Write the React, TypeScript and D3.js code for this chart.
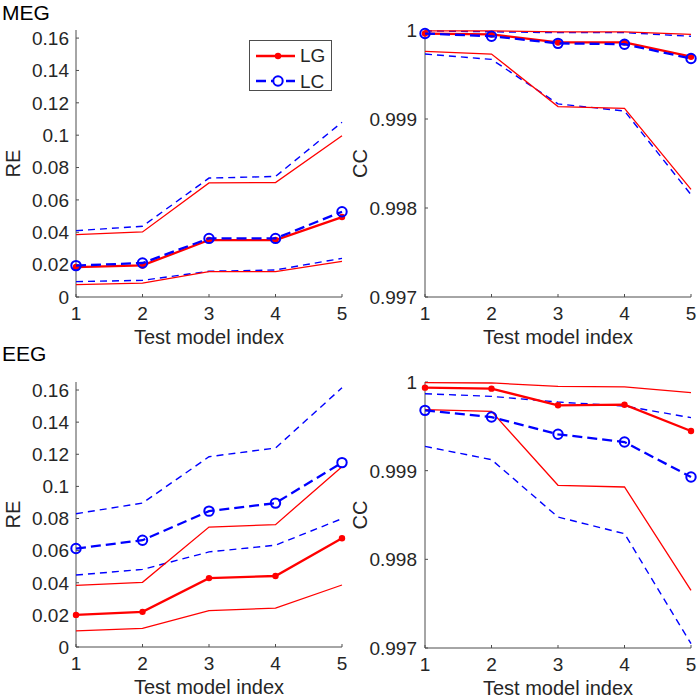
import React, { useEffect, useRef } from 'react'
import * as d3 from 'd3'

const models = [1, 2, 3, 4, 5]

// MEG, relative error
const megReLgMean = [0.0185, 0.0195, 0.0352, 0.0352, 0.0494]
const megReLgHi = [0.0385, 0.0402, 0.0705, 0.0707, 0.0997]
const megReLgLo = [0.0076, 0.0086, 0.0157, 0.0157, 0.022]
const megReLcMean = [0.0194, 0.021, 0.0362, 0.0362, 0.0527]
const megReLcHi = [0.041, 0.0437, 0.0735, 0.0745, 0.108]
const megReLcLo = [0.0095, 0.0103, 0.0159, 0.0167, 0.0239]

// MEG, correlation coefficient
const megCcLgMean = [0.99996, 0.99995, 0.99986, 0.99986, 0.9997]
const megCcLgHi = [0.99999, 0.99999, 0.99998, 0.99998, 0.99995]
const megCcLgLo = [0.99976, 0.99973, 0.99914, 0.99912, 0.99821]
const megCcLcMean = [0.99996, 0.99993, 0.99985, 0.99984, 0.99968]
const megCcLcHi = [0.99999, 0.99998, 0.99997, 0.99997, 0.99993]
const megCcLcLo = [0.99973, 0.99967, 0.99917, 0.99909, 0.99815]

// EEG, relative error
const eegReLgMean = [0.02, 0.0219, 0.0429, 0.0442, 0.0677]
const eegReLgHi = [0.0384, 0.0403, 0.0747, 0.0762, 0.1123]
const eegReLgLo = [0.0101, 0.0116, 0.0227, 0.0242, 0.0386]
const eegReLcMean = [0.0613, 0.0665, 0.0846, 0.0896, 0.1148]
const eegReLcHi = [0.083, 0.0896, 0.1185, 0.1239, 0.1614]
const eegReLcLo = [0.0448, 0.0483, 0.0592, 0.0634, 0.0799]

// EEG, correlation coefficient
const eegCcLgMean = [0.999936, 0.999925, 0.999737, 0.999744, 0.999447]
const eegCcLgHi = [0.999992, 0.999989, 0.999951, 0.999944, 0.99988]
const eegCcLgLo = [0.999688, 0.999669, 0.998835, 0.998816, 0.99765]
const eegCcLcMean = [0.99968, 0.999605, 0.99941, 0.999323, 0.998929]
const eegCcLcHi = [0.999868, 0.999838, 0.999774, 0.999729, 0.999598]
const eegCcLcLo = [0.999274, 0.999124, 0.998477, 0.998289, 0.997049]

const reTicks = [0, 0.02, 0.04, 0.06, 0.08, 0.1, 0.12, 0.14, 0.16]
const ccTicks = [0.997, 0.998, 0.999, 1]

const RED = '#ff0000'
const BLUE = '#0000ff'
const AXIS = '#4d4d4d'
const TEXT = '#262626'
const FONT = 'Liberation Sans, Arial, sans-serif'

type Panel = {
  left: number
  right: number
  top: number
  bottom: number
  domain: [number, number]
  ticks: number[]
  fmt: (v: number) => string
  ylabel: string
  ylabelX: number
  tickGap: number
  lgMean: number[]
  lgHi: number[]
  lgLo: number[]
  lcMean: number[]
  lcHi: number[]
  lcLo: number[]
}

export default function App() {
  const ref = useRef<SVGSVGElement>(null)

  useEffect(() => {
    const svg = d3.select(ref.current)
    svg.selectAll('*').remove()

    const reFmt = (v: number) => (v === 0 ? '0' : String(+v.toFixed(2)))
    const ccFmt = (v: number) => (v === 1 ? '1' : v.toFixed(3))

    const panels: Panel[] = [
      { left: 76, right: 342, top: 30, bottom: 297, domain: [0, 0.165], ticks: reTicks, fmt: reFmt, ylabel: 'RE', ylabelX: 20, tickGap: 7,
        lgMean: megReLgMean, lgHi: megReLgHi, lgLo: megReLgLo, lcMean: megReLcMean, lcHi: megReLcHi, lcLo: megReLcLo },
      { left: 425, right: 691, top: 30, bottom: 297, domain: [0.997, 1], ticks: ccTicks, fmt: ccFmt, ylabel: 'CC', ylabelX: 367, tickGap: 8,
        lgMean: megCcLgMean, lgHi: megCcLgHi, lgLo: megCcLgLo, lcMean: megCcLcMean, lcHi: megCcLcHi, lcLo: megCcLcLo },
      { left: 76, right: 342, top: 382, bottom: 647, domain: [0, 0.165], ticks: reTicks, fmt: reFmt, ylabel: 'RE', ylabelX: 20, tickGap: 7,
        lgMean: eegReLgMean, lgHi: eegReLgHi, lgLo: eegReLgLo, lcMean: eegReLcMean, lcHi: eegReLcHi, lcLo: eegReLcLo },
      { left: 425, right: 691, top: 382, bottom: 648, domain: [0.997, 1], ticks: ccTicks, fmt: ccFmt, ylabel: 'CC', ylabelX: 367, tickGap: 8,
        lgMean: eegCcLgMean, lgHi: eegCcLgHi, lgLo: eegCcLgLo, lcMean: eegCcLcMean, lcHi: eegCcLcHi, lcLo: eegCcLcLo },
    ]

    panels.forEach((p) => {
      const x = d3.scaleLinear().domain([1, 5]).range([p.left, p.right])
      const y = d3.scaleLinear().domain(p.domain).range([p.bottom, p.top])
      const g = svg.append('g')

      // axes (box off, ticks inward)
      g.append('line').attr('x1', p.left).attr('x2', p.left).attr('y1', p.top).attr('y2', p.bottom)
        .attr('stroke', AXIS).attr('stroke-width', 1)
      g.append('line').attr('x1', p.left).attr('x2', p.right).attr('y1', p.bottom).attr('y2', p.bottom)
        .attr('stroke', AXIS).attr('stroke-width', 1)

      p.ticks.forEach((t) => {
        g.append('line').attr('x1', p.left).attr('x2', p.left + 3).attr('y1', y(t)).attr('y2', y(t))
          .attr('stroke', AXIS)
        g.append('text').attr('x', p.left - p.tickGap).attr('y', y(t)).attr('dy', '0.36em')
          .attr('text-anchor', 'end').attr('font-size', 19).attr('font-family', FONT).attr('fill', TEXT)
          .text(p.fmt(t))
      })
      models.forEach((m) => {
        g.append('line').attr('x1', x(m)).attr('x2', x(m)).attr('y1', p.bottom).attr('y2', p.bottom - 3)
          .attr('stroke', AXIS)
        g.append('text').attr('x', x(m)).attr('y', p.bottom + 23)
          .attr('text-anchor', 'middle').attr('font-size', 19).attr('font-family', FONT).attr('fill', TEXT)
          .text(m)
      })
      g.append('text').attr('x', (p.left + p.right) / 2).attr('y', p.bottom + 47)
        .attr('text-anchor', 'middle').attr('font-size', 20).attr('font-family', FONT).attr('fill', TEXT)
        .text('Test model index')
      const cy = (p.top + p.bottom) / 2
      g.append('text').attr('transform', `translate(${p.ylabelX},${cy}) rotate(-90)`)
        .attr('text-anchor', 'middle').attr('font-size', 20).attr('font-family', FONT).attr('fill', TEXT)
        .text(p.ylabel)

      const line = d3.line<number>().x((_, i) => x(models[i])).y((d) => y(d))

      const draw = (vals: number[], color: string, w: number, dash: string | null) => {
        const path = g.append('path').datum(vals).attr('d', line).attr('fill', 'none')
          .attr('stroke', color).attr('stroke-width', w).attr('stroke-linejoin', 'miter')
        if (dash) path.attr('stroke-dasharray', dash)
      }

      draw(p.lcHi, BLUE, 1.4, '7,5')
      draw(p.lcLo, BLUE, 1.4, '7,5')
      draw(p.lgHi, RED, 1.3, null)
      draw(p.lgLo, RED, 1.3, null)
      draw(p.lgMean, RED, 2.3, null)
      g.selectAll('.lgdot').data(p.lgMean).enter().append('circle')
        .attr('cx', (_, i) => x(models[i])).attr('cy', (d) => y(d)).attr('r', 3.2).attr('fill', RED)
      draw(p.lcMean, BLUE, 2.3, '10,5')
      g.selectAll('.lcdot').data(p.lcMean).enter().append('circle')
        .attr('cx', (_, i) => x(models[i])).attr('cy', (d) => y(d)).attr('r', 4.7)
        .attr('fill', 'none').attr('stroke', BLUE).attr('stroke-width', 2)
    })

    // panel titles
    svg.append('text').attr('x', 2).attr('y', 20).attr('font-size', 21).attr('font-family', FONT).attr('fill', '#000').text('MEG')
    svg.append('text').attr('x', 2).attr('y', 361).attr('font-size', 21).attr('font-family', FONT).attr('fill', '#000').text('EEG')

    // legend
    const lg = svg.append('g')
    lg.append('rect').attr('x', 249.5).attr('y', 40.5).attr('width', 82).attr('height', 50)
      .attr('fill', '#fff').attr('stroke', AXIS).attr('stroke-width', 1)
    lg.append('line').attr('x1', 256).attr('x2', 295).attr('y1', 56).attr('y2', 56).attr('stroke', RED).attr('stroke-width', 2.3)
    lg.append('circle').attr('cx', 278).attr('cy', 56).attr('r', 3.2).attr('fill', RED)
    lg.append('line').attr('x1', 256).attr('x2', 295).attr('y1', 81).attr('y2', 81).attr('stroke', BLUE)
      .attr('stroke-width', 2.3).attr('stroke-dasharray', '10,5')
    lg.append('circle').attr('cx', 278).attr('cy', 81).attr('r', 4.7).attr('fill', '#fff').attr('stroke', BLUE).attr('stroke-width', 2)
    lg.append('text').attr('x', 300).attr('y', 62).attr('font-size', 19).attr('font-family', FONT).attr('fill', TEXT).text('LG')
    lg.append('text').attr('x', 300).attr('y', 88).attr('font-size', 19).attr('font-family', FONT).attr('fill', TEXT).text('LC')
  }, [])

  return (
    <svg ref={ref} width={700} height={700}
      style={{ position: 'absolute', left: 0, top: 0, background: '#fff' }} />
  )
}
